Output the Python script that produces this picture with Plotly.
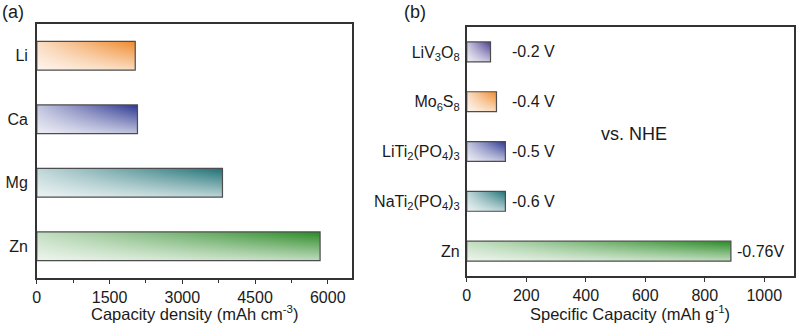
import plotly.graph_objects as go

# ---------------- data ----------------
metals_a = ["Zn", "Mg", "Ca", "Li"]
capacity_density = [5842, 3829, 2076, 2030]          # mAh cm^-3
colors_a = ["#2a8a25", "#1e7176", "#2b3590", "#f0892a"]

anodes_b = ["Zn", "NaTi<sub>2</sub>(PO<sub>4</sub>)<sub>3</sub>",
            "LiTi<sub>2</sub>(PO<sub>4</sub>)<sub>3</sub>",
            "Mo<sub>6</sub>S<sub>8</sub>", "LiV<sub>3</sub>O<sub>8</sub>"]
specific_capacity = [888, 130, 130, 100, 80]          # mAh g^-1
potentials_b = ["-0.76V", "-0.6 V", "-0.5 V", "-0.4 V", "-0.2 V"]
colors_b = ["#2a8a25", "#1e7176", "#2b3590", "#f0892a", "#4a3a90"]

title_a = "Capacity density (mAh cm<sup>-3</sup>)"
title_b = "Specific Capacity (mAh g<sup>-1</sup>)"

FONT = "Liberation Sans, Arial, Helvetica, sans-serif"
TXT = "#1a1a1a"
AX = "#333333"
OUTLINE = "#4d4d4d"

XDOM_A = [0.046, 0.44]
XDOM_B = [0.5834, 0.9925]


def light(hex_c, f):
    h = hex_c.lstrip("#")
    r, g, b = int(h[0:2], 16), int(h[2:4], 16), int(h[4:6], 16)
    r = int(r + (255 - r) * f); g = int(g + (255 - g) * f); b = int(b + (255 - b) * f)
    return f"rgb({r},{g},{b})"


fig = go.Figure()


def add_bars(values, colors, width, xa, ya):
    for i, (v, c) in enumerate(zip(values, colors)):
        y0, y1 = i - width / 2, i + width / 2
        xs = [0, v, v, 0, 0]
        ys = [y0, y0, y1, y1, y0]
        # horizontal colour gradient
        fig.add_trace(go.Scatter(
            x=xs, y=ys, fill="toself", mode="lines",
            line=dict(width=0, color=c),
            fillgradient=dict(type="horizontal",
                              colorscale=[[0, light(c, 0.72)], [1, c]]),
            xaxis=xa, yaxis=ya, hoverinfo="skip", showlegend=False))
        # vertical white sheen (bottom lighter) + outline
        fig.add_trace(go.Scatter(
            x=xs, y=ys, fill="toself", mode="lines",
            line=dict(width=1.2, color=OUTLINE),
            fillgradient=dict(type="vertical",
                              colorscale=[[0, "rgba(255,255,255,0.7)"],
                                          [1, "rgba(255,255,255,0)"]]),
            xaxis=xa, yaxis=ya, hoverinfo="skip", showlegend=False))


add_bars(capacity_density, colors_a, 0.45, "x", "y")
add_bars(specific_capacity, colors_b, 0.40, "x2", "y2")

# potential labels in panel (b)
for i, (v, t) in enumerate(zip(specific_capacity, potentials_b)):
    fig.add_annotation(x=max(v, 130) + 14, y=i, xref="x2", yref="y2", text=t,
                       showarrow=False, xanchor="left", yanchor="middle",
                       font=dict(size=16, color=TXT, family=FONT))

fig.add_annotation(x=563, y=2.35, xref="x2", yref="y2", text="vs. NHE",
                   showarrow=False, xanchor="center", yanchor="middle",
                   font=dict(size=18, color=TXT, family=FONT))

fig.add_annotation(x=0.0, y=1.0, xref="paper", yref="paper", text="(a)",
                   showarrow=False, xanchor="left", yanchor="top",
                   font=dict(size=18, color=TXT, family=FONT))
fig.add_annotation(x=0.503, y=1.0, xref="paper", yref="paper", text="(b)",
                   showarrow=False, xanchor="left", yanchor="top",
                   font=dict(size=18, color=TXT, family=FONT))

# axis titles
for dom, t in ((XDOM_A, title_a), (XDOM_B, title_b)):
    fig.add_annotation(x=(dom[0] + dom[1]) / 2, y=1 - 313 / 330,
                       xref="paper", yref="paper", text=t, showarrow=False,
                       xanchor="center", yanchor="middle",
                       font=dict(size=16.5, color=TXT, family=FONT))

common_x = dict(showline=True, mirror=True, linecolor=AX, linewidth=1.5,
                ticks="outside", ticklen=4, tickwidth=1.2, tickcolor=AX,
                showgrid=False, zeroline=False,
                tickfont=dict(size=16, color=TXT, family=FONT),
                automargin=False)
common_y = dict(showline=True, mirror=True, linecolor=AX, linewidth=1.5,
                ticks="", showgrid=False, zeroline=False,
                tickfont=dict(size=16, color=TXT, family=FONT),
                automargin=False)

fig.update_layout(
    width=800, height=330,
    margin=dict(l=0, r=0, t=0, b=0),
    paper_bgcolor="white", plot_bgcolor="white",
    xaxis=dict(domain=XDOM_A, range=[0, 6500], dtick=1500, tick0=0,
               minor=dict(dtick=750, ticks="outside", ticklen=3, tickcolor=AX),
               anchor="y", **common_x),
    yaxis=dict(domain=[0.1576, 0.9273], range=[-0.5, 3.5],
               tickvals=list(range(len(metals_a))), ticktext=metals_a,
               anchor="x", ticklabelstandoff=4, **common_y),
    xaxis2=dict(domain=XDOM_B, range=[0, 1100], dtick=200, tick0=0,
                anchor="y2", **common_x),
    yaxis2=dict(domain=[0.1636, 0.9182], range=[-0.5, 4.5],
                tickvals=list(range(len(anodes_b))), ticktext=anodes_b,
                anchor="x2", ticklabelstandoff=2, **common_y),
)

fig.write_html("out.html")
